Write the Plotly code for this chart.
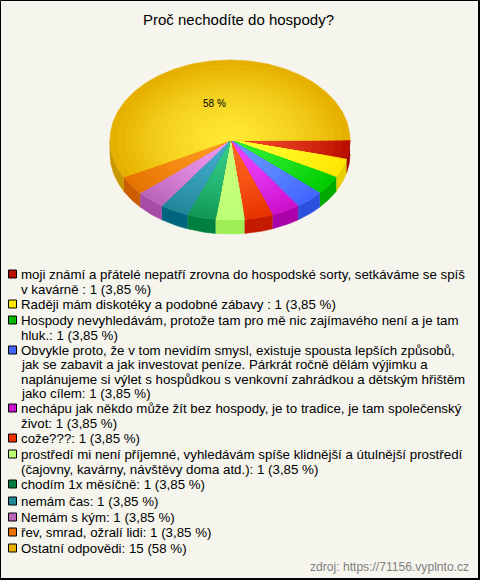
import math
import plotly.graph_objects as go

values = [1, 1, 1, 1, 1, 1, 1, 1, 1, 1, 1, 15]
center_colors = ["#f5482a", "#ffff33", "#33ee33", "#6699ff", "#ee44ff", "#ff6622",
                 "#ccff77", "#33cc88", "#44aacc", "#ee99ee", "#ff9922", "#ffe833"]
edge_colors = ["#bb1100", "#ffe600", "#00cc00", "#4466ff", "#cc11cc", "#e83300",
               "#bbff77", "#119955", "#228899", "#bb66bb", "#e67300", "#e6b000"]
side_colors = ["#990000", "#e6d000", "#00aa00", "#2a50dd", "#aa00aa", "#c41a00",
               "#a0ee55", "#008040", "#006680", "#a64ca6", "#cc5c00", "#c89800"]
legend_colors = ["#bb1100", "#ffe600", "#00bb00", "#4466ff", "#cc11cc", "#e83300",
                 "#bbff77", "#008040", "#228899", "#bb66bb", "#e67300", "#e6b000"]
legend_lines = [
    ["moji známí a přátelé nepatří zrovna do hospodské sorty, setkáváme se spíš", "v kavárně : 1 (3,85 %)"],
    ["Raději mám diskotéky a podobné zábavy : 1 (3,85 %)"],
    ["Hospody nevyhledávám, protože tam pro mě nic zajímavého není a je tam", "hluk.: 1 (3,85 %)"],
    ["Obvykle proto, že v tom nevidím smysl, existuje spousta lepších způsobů,",
     "jak se zabavit a jak investovat peníze. Párkrát ročně dělám výjimku a",
     "naplánujeme si výlet s hospůdkou s venkovní zahrádkou a dětským hřištěm",
     "jako cílem: 1 (3,85 %)"],
    ["nechápu jak někdo může žít bez hospody, je to tradice, je tam společenský", "život: 1 (3,85 %)"],
    ["cože???: 1 (3,85 %)"],
    ["prostředí mi není příjemné, vyhledávám spíše klidnější a útulnější prostředí",
     "(čajovny, kavárny, návštěvy doma atd.): 1 (3,85 %)"],
    ["chodím 1x měsíčně: 1 (3,85 %)"],
    ["nemám čas: 1 (3,85 %)"],
    ["Nemám s kým: 1 (3,85 %)"],
    ["řev, smrad, ožralí lidi: 1 (3,85 %)"],
    ["Ostatní odpovědi: 15 (58 %)"],
]
title_text = "Proč nechodíte do hospody?"
pct_label = "58 %"
footer_text = "zdroj: https://71156.vyplnto.cz"

# layout constants
W, H = 480, 580
CX, CY, RX, RY, DEPTH = 230, 140, 120, 80, 14
BG = "#f5f5ee"
FONT = "Liberation Sans, Arial, sans-serif"
BANDS = 16
LINE_YS = [274, 289, 304, 320, 335, 350, 364, 379, 393, 408, 423, 438, 454, 469, 484, 501, 517, 532, 548]


def hex_rgb(c):
    return [int(c[i:i + 2], 16) for i in (1, 3, 5)]


def mix(a, b, t):
    ra, rb = hex_rgb(a), hex_rgb(b)
    return "rgb(%d,%d,%d)" % tuple(round(x + (y - x) * t) for x, y in zip(ra, rb))


def arc(a0, a1, rx, ry, dy=0.0):
    n = max(2, int(abs(a1 - a0) / 0.02))
    xs = [CX + rx * math.cos(a0 + (a1 - a0) * i / n) for i in range(n + 1)]
    ys = [CY + dy + ry * math.sin(a0 + (a1 - a0) * i / n) for i in range(n + 1)]
    return xs, ys


fig = go.Figure()


def poly(xs, ys, color):
    fig.add_trace(go.Scatter(x=xs, y=ys, mode="lines", fill="toself", fillcolor=color,
                             line=dict(color=color, width=0.6), hoverinfo="skip", showlegend=False))


total = sum(values)
angles = [0.0]
for v in values:
    angles.append(angles[-1] + v / total * 2 * math.pi)

# side wall (front half only)
for i in range(len(values)):
    a0, a1 = angles[i], min(angles[i + 1], math.pi)
    if a0 < math.pi:
        x0, y0 = arc(a0, a1, RX, RY)
        x1, y1 = arc(a1, a0, RX, RY, DEPTH)
        poly(x0 + x1, y0 + y1, side_colors[i])

# top face: concentric bands from rim towards the centre
for i in range(len(values)):
    a0, a1 = angles[i], angles[i + 1]
    for b in range(BANDS):
        f = 1 - b / BANDS
        x, y = arc(a0, a1, RX * f, RY * f)
        poly([CX] + x + [CX], [CY] + y + [CY], mix(center_colors[i], edge_colors[i], f ** 1.6))

shapes = [dict(type="rect", xref="x", yref="y", x0=0.5, y0=0.5, x1=W - 1, y1=H - 1,
               line=dict(color="#000000", width=1), layer="above"),
          dict(type="line", xref="x", yref="y", x0=W - 1, x1=W - 1, y0=0, y1=H,
               line=dict(color="#000000", width=2), layer="above"),
          dict(type="line", xref="x", yref="y", x0=0, x1=W, y0=H - 1, y1=H - 1,
               line=dict(color="#000000", width=2), layer="above")]
anns = [
    dict(x=238, y=19, text=title_text, font=dict(size=15, color="#000000", family=FONT)),
    dict(x=214, y=103, text=pct_label, font=dict(size=10, color="#000000", family=FONT)),
    dict(x=470, y=567, xanchor="right", text=footer_text, font=dict(size=12.1, color="#808080", family=FONT)),
]
k = 0
for i, lines in enumerate(legend_lines):
    ys = LINE_YS[k]
    shapes.append(dict(type="rect", xref="x", yref="y", x0=8.5, x1=16.5, y0=ys - 4, y1=ys + 4,
                       fillcolor=legend_colors[i], line=dict(color="#000000", width=1)))
    for ln in lines:
        anns.append(dict(x=20, y=LINE_YS[k], xanchor="left", text=ln,
                         font=dict(size=13.3, color="#000000", family=FONT)))
        k += 1
for a in anns:
    a.update(xref="x", yref="y", showarrow=False, yanchor="middle", borderpad=0)

fig.update_layout(
    width=W, height=H, margin=dict(l=0, r=0, t=0, b=0),
    paper_bgcolor=BG, plot_bgcolor=BG, showlegend=False,
    xaxis=dict(range=[0, W], visible=False, fixedrange=True),
    yaxis=dict(range=[H, 0], visible=False, fixedrange=True),
    shapes=shapes, annotations=anns,
)
fig.write_html("out.html", config={"displayModeBar": False},
               post_script="document.body.style.margin='0';document.documentElement.style.overflow='hidden';")
